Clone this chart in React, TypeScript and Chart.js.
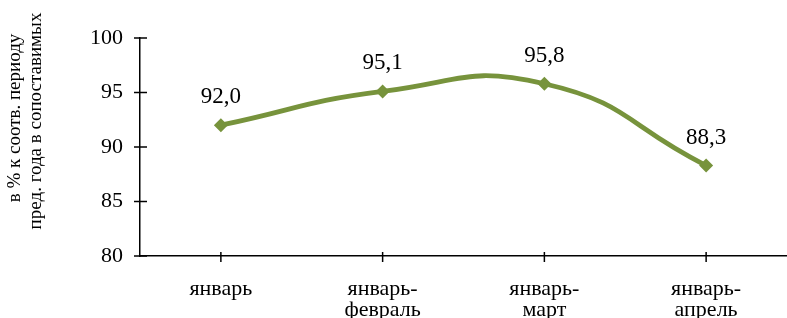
import React, { useEffect, useRef } from "react";
import { Chart, registerables } from "chart.js";

Chart.register(...registerables);

const categories: string[][] = [["январь"], ["январь-", "февраль"], ["январь-", "март"], ["январь-", "апрель"]];
const values: number[] = [92.0, 95.1, 95.8, 88.3];
const yTicks: number[] = [80, 85, 90, 95, 100];
const yTitleLines: string[] = ["в % к соотв. периоду", "пред. года в сопоставимых"];

const FONT = "'Liberation Serif', 'Times New Roman', serif";
const GREEN = "#77933C";

export default function App() {
  const ref = useRef<HTMLCanvasElement | null>(null);

  useEffect(() => {
    document.body.style.margin = "0";
    const canvas = ref.current;
    if (!canvas) return;

    const tickPlugin = {
      id: "crossTicks",
      afterDraw(chart: any) {
        const ctx = chart.ctx;
        const xs = chart.scales.x;
        const ys = chart.scales.y;
        ctx.save();
        ctx.strokeStyle = "#000";
        ctx.lineWidth = 1.5;
        const ax = chart.chartArea.left;
        const ay = chart.chartArea.bottom;
        yTicks.forEach((v) => {
          const py = ys.getPixelForValue(v);
          ctx.beginPath();
          ctx.moveTo(ax - 6, py);
          ctx.lineTo(ax + 7, py);
          ctx.stroke();
        });
        categories.forEach((_, i) => {
          const px = xs.getPixelForValue(i);
          ctx.beginPath();
          ctx.moveTo(px, ay - 4);
          ctx.lineTo(px, ay + 6);
          ctx.stroke();
        });
        // data labels
        const meta = chart.getDatasetMeta(0);
        ctx.fillStyle = "#000";
        ctx.font = `23px ${FONT}`;
        ctx.textAlign = "center";
        ctx.textBaseline = "alphabetic";
        meta.data.forEach((pt: any, i: number) => {
          ctx.fillText(values[i].toFixed(1).replace(".", ","), pt.x, pt.y - 22);
        });
        // y title
        ctx.font = `19px ${FONT}`;
        ctx.textBaseline = "middle";
        const centers = [
          [15, 118],
          [36, 121],
        ];
        yTitleLines.forEach((t, i) => {
          ctx.save();
          ctx.translate(centers[i][0], centers[i][1]);
          ctx.rotate(-Math.PI / 2);
          ctx.fillText(t, 0, 0);
          ctx.restore();
        });
        ctx.restore();
      },
    };

    const chart = new Chart(canvas, {
      type: "line",
      data: {
        labels: categories,
        datasets: [
          {
            data: values,
            borderColor: GREEN,
            backgroundColor: GREEN,
            borderWidth: 4.8,
            tension: 0.5,
            pointStyle: "rectRot",
            pointRadius: 7,
            pointHoverRadius: 7,
            pointBackgroundColor: GREEN,
            pointBorderColor: GREEN,
            pointBorderWidth: 0,
          },
        ],
      },
      options: {
        animation: false,
        responsive: false,
        maintainAspectRatio: false,
        layout: { autoPadding: false, padding: { left: 0, right: 0, top: 38, bottom: 0 } },
        plugins: { legend: { display: false }, tooltip: { enabled: false }, title: { display: false } },
        scales: {
          x: {
            type: "category",
            offset: true,
            grid: { display: false, offset: true },
            border: { display: true, color: "#000", width: 1.5 },
            ticks: {
              color: "#000",
              font: { family: FONT, size: 22, lineHeight: 0.96 },
              padding: 15,
              maxRotation: 0,
              autoSkip: false,
            },
            afterFit: (s: any) => {
              s.height = 62;
              s.paddingLeft = 0;
              s.paddingRight = 0;
            },
          },
          y: {
            min: 80,
            max: 100,
            grid: { display: false },
            border: { display: true, color: "#000", width: 1.5 },
            ticks: {
              stepSize: 5,
              color: "#000",
              font: { family: FONT, size: 22 },
              padding: 9,
            },
            afterFit: (s: any) => {
              s.width = 140;
              s.paddingTop = 0;
              s.paddingBottom = 0;
            },
          },
        },
      },
      plugins: [tickPlugin],
    });
    return () => chart.destroy();
  }, []);

  return (
    <div style={{ position: "absolute", left: 0, top: 0, width: 787, height: 318 }}>
      <canvas ref={ref} width={787} height={318} style={{ width: 787, height: 318, display: "block" }} />
    </div>
  );
}
